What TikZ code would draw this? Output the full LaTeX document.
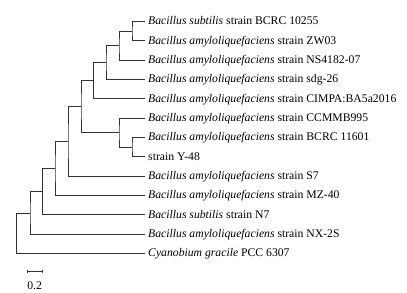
\documentclass[tikz,border=0pt]{standalone}
\usepackage{fontspec}
\setmainfont{Liberation Serif}
\usepackage{xcolor}
\usetikzlibrary{arrows.meta}

\begin{document}
\begin{tikzpicture}[x=1pt,y=-1pt,
  branch/.style={draw=black!80,line width=0.8pt},
  taxon/.style={anchor=west,inner sep=3pt,text height=8.5pt,text depth=2pt,
    font=\fontsize{11.7}{13}\selectfont}]
\useasboundingbox (0,0) rectangle (407,292);

\node[taxon] (l1) at (145,21.5) {\textit{Bacillus subtilis} strain BCRC 10255};
\node[taxon] (l2) at (145,40.8) {\textit{Bacillus amyloliquefaciens} strain ZW03};
\node[taxon] (l3) at (145,60.2) {\textit{Bacillus amyloliquefaciens} strain NS4182-07};
\node[taxon] (l4) at (145,79.5) {\textit{Bacillus amyloliquefaciens} strain sdg-26};
\node[taxon] (l5) at (145,98.8) {\textit{Bacillus amyloliquefaciens} strain CIMPA:BA5a2016};
\node[taxon] (l6) at (145,118.2) {\textit{Bacillus amyloliquefaciens} strain CCMMB995};
\node[taxon] (l7) at (145,137.5) {\textit{Bacillus amyloliquefaciens} strain BCRC 11601};
\node[taxon] (l8) at (145,156.8) {strain Y-48};
\node[taxon] (l9) at (145,176.1) {\textit{Bacillus amyloliquefaciens} strain S7};
\node[taxon] (l10) at (145,195.5) {\textit{Bacillus amyloliquefaciens} strain MZ-40};
\node[taxon] (l11) at (145,214.8) {\textit{Bacillus subtilis} strain N7};
\node[taxon] (l12) at (145,234.1) {\textit{Bacillus amyloliquefaciens} strain NX-2S};
\node[taxon] (l13) at (145,253.5) {\textit{Cyanobium gracile} PCC 6307};

\coordinate (a) at (132,31.2);
\coordinate (b) at (119,45.7);
\coordinate (c) at (106,62.6);
\coordinate (d) at (93.5,80.7);
\coordinate (e) at (132,147.2);
\coordinate (f) at (119,132.7);
\coordinate (g) at (81,106.7);
\coordinate (h) at (68,141.4);
\coordinate (i) at (55,168.5);
\coordinate (j) at (42.7,191.6);
\coordinate (k) at (30,212.9);
\coordinate (r) at (16.7,233.2);

\draw[branch] (l1.west) -| (a) |- (l2.west);
\draw[branch] (a) -| (b) |- (l3.west);
\draw[branch] (b) -| (c) |- (l4.west);
\draw[branch] (c) -| (d) |- (l5.west);
\draw[branch] (l7.west) -| (e) |- (l8.west);
\draw[branch] (l6.west) -| (f) |- (e);
\draw[branch] (d) -| (g) |- (f);
\draw[branch] (g) -| (h) |- (l9.west);
\draw[branch] (h) -| (i) |- (l10.west);
\draw[branch] (i) -| (j) |- (l11.west);
\draw[branch] (j) -| (k) |- (l12.west);
\draw[branch] (k) -| (r) |- (l13.west);

\coordinate (s1) at (26.7,271.7);
\coordinate (s2) at (42.7,271.7);
\draw[branch,{Bar[width=3pt]}-{Bar[width=3pt]}] (s1) -- (s2);
\node[font=\fontsize{11.7}{13}\selectfont,inner sep=0pt] (sl) at (34.7,286) {0.2};
\end{tikzpicture}
\end{document}
